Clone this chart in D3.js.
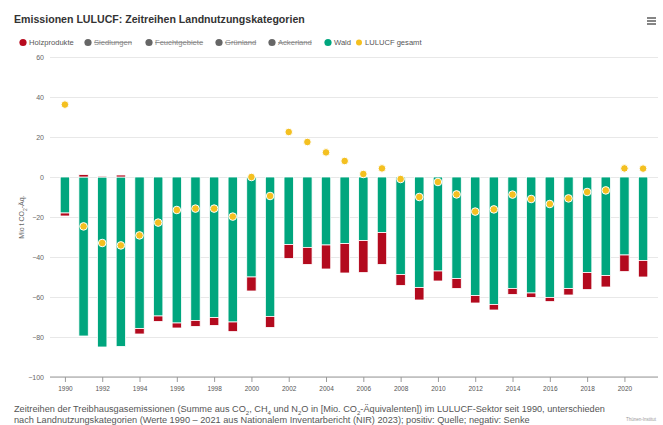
<!DOCTYPE html>
<html>
<head>
<meta charset="utf-8">
<script src="https://cdn.jsdelivr.net/npm/d3@7"></script>
<style>
  body { margin: 0; background: #fff; }
  svg { display: block; font-family: "Liberation Sans", Arial, sans-serif; }
</style>
</head>
<body>
<script>
// Jahre (Kategorien)
var years = [1990, 1991, 1992, 1993, 1994, 1995, 1996, 1997, 1998, 1999,
  2000, 2001, 2002, 2003, 2004, 2005, 2006, 2007, 2008, 2009,
  2010, 2011, 2012, 2013, 2014, 2015, 2016, 2017, 2018, 2019, 2020, 2021];

// Wald (Mio t CO2-Äq.)
var wald = [-18, -79.5, -85, -84.7, -75.8, -69.5, -73, -71.7, -70.3, -72.5,
  -50, -69.7, -33.8, -35.2, -34, -33.3, -31.8, -27.8, -48.8, -55.3,
  -47, -50.8, -59.3, -63.7, -55.7, -58, -60.2, -55.8, -47.8, -49.3, -39, -41.7];

// Holzprodukte
var holz = [-1.5, 1.2, 0.5, 1.0, -2.7, -2.7, -2.5, -3.0, -3.9, -4.8,
  -7, -5.5, -6.9, -8.5, -12, -14.7, -16, -15.9, -5.4, -6.2,
  -5, -4.9, -3.7, -2.8, -3, -2.2, -2.1, -3.2, -8.5, -5.7, -8.3, -8.3];

// LULUCF gesamt (inkl. ausgeblendeter Kategorien)
var gesamt = [36.2, -24.7, -33, -34.2, -29.2, -22.8, -16.5, -15.8, -15.8, -19.8,
  0, -9.5, 22.5, 17.5, 12.3, 8, 1.5, 4.3, -1, -10,
  -2.5, -8.7, -17.3, -16.2, -8.8, -11, -13.5, -10.7, -7.5, -6.7, 4.3, 4.2];

var yTicks = [-100, -80, -60, -40, -20, 0, 20, 40, 60];
var xTicks = [1990, 1992, 1994, 1996, 1998, 2000, 2002, 2004, 2006, 2008, 2010,
  2012, 2014, 2016, 2018, 2020];

var legendItems = [
  { name: 'Holzprodukte', color: '#b80a1e', hidden: false, x: 23 },
  { name: 'Siedlungen', color: '#666', hidden: true, x: 88 },
  { name: 'Feuchtgebiete', color: '#666', hidden: true, x: 149 },
  { name: 'Grünland', color: '#666', hidden: true, x: 219 },
  { name: 'Ackerland', color: '#666', hidden: true, x: 272 },
  { name: 'Wald', color: '#00a67e', hidden: false, x: 328 },
  { name: 'LULUCF gesamt', color: '#f4c020', hidden: false, x: 359, small: true }
];

var W = 663, H = 425;
var plot = { left: 50, right: 658, top: 57, bottom: 377 };

var svg = d3.select('body').append('svg')
  .attr('width', W)
  .attr('height', H);

// Titel
svg.append('text')
  .attr('x', 14).attr('y', 23)
  .style('font-size', '10.6px')
  .style('font-weight', 'bold')
  .style('fill', '#333')
  .text('Emissionen LULUCF: Zeitreihen Landnutzungskategorien');

// Menü-Symbol
[18, 21, 24].forEach(function(yy) {
  svg.append('line')
    .attr('x1', 647).attr('x2', 656)
    .attr('y1', yy).attr('y2', yy)
    .style('stroke', '#666').style('stroke-width', 1.6);
});

// Legende
var leg = svg.append('g').attr('class', 'legend');
legendItems.forEach(function(d) {
  leg.append('circle')
    .attr('cx', d.x).attr('cy', 42.5)
    .attr('r', d.small ? 3 : 3.6)
    .style('fill', d.color);
  leg.append('text')
    .attr('x', d.x + 6).attr('y', 45)
    .style('font-size', '7.6px')
    .style('fill', d.hidden ? '#888' : '#555')
    .style('text-decoration', d.hidden ? 'line-through' : null)
    .text(d.name);
});

var x = d3.scaleLinear()
  .domain([1989.2, 2021.8])
  .range([plot.left, plot.right]);

var y = d3.scaleLinear()
  .domain([-100, 60])
  .range([plot.bottom, plot.top]);

// Gitternetz + y-Achse
var yAxis = d3.axisLeft(y)
  .tickValues(yTicks)
  .tickSize(-(plot.right - plot.left))
  .tickPadding(6);

var gy = svg.append('g')
  .attr('transform', 'translate(' + plot.left + ',0)')
  .call(yAxis);
gy.select('.domain').remove();
gy.selectAll('.tick line').style('stroke', '#e8e8e8');
gy.selectAll('.tick text')
  .style('font-size', '7px')
  .style('fill', '#666')
  .style('font-family', '"Liberation Sans", Arial, sans-serif');

svg.append('text')
  .attr('transform', 'translate(24,' + ((plot.top + plot.bottom) / 2) + ') rotate(-90)')
  .attr('text-anchor', 'middle')
  .style('font-size', '7px')
  .style('fill', '#666')
  .html('Mio t CO<tspan baseline-shift="sub" font-size="5px">2</tspan>-Äq.');

// x-Achse
var xAxis = d3.axisBottom(x)
  .tickValues(xTicks)
  .tickFormat(d3.format('d'))
  .tickSize(5)
  .tickPadding(4);

var gx = svg.append('g')
  .attr('transform', 'translate(0,' + plot.bottom + ')')
  .call(xAxis);
gx.select('.domain')
  .attr('d', 'M' + plot.left + ',0H' + plot.right)
  .style('stroke', '#9a9a9a');
gx.selectAll('.tick line').style('stroke', '#9a9a9a');
gx.selectAll('.tick text')
  .style('font-size', '6.5px')
  .style('fill', '#555')
  .style('font-family', '"Liberation Sans", Arial, sans-serif');

// Gestapelte Säulen
var rows = years.map(function(yr, i) {
  return { year: yr, Wald: wald[i], Holzprodukte: holz[i] };
});

var stack = d3.stack()
  .keys(['Wald', 'Holzprodukte'])
  .offset(d3.stackOffsetDiverging);

var series = stack(rows);
var colors = { Wald: '#00a67e', Holzprodukte: '#b30a1e' };
var barW = 9.4;

svg.selectAll('.series')
  .data(series)
  .enter().append('g')
  .attr('class', 'series')
  .style('fill', function(s) { return colors[s.key]; })
  .selectAll('rect')
  .data(function(s) { return s; })
  .enter().append('rect')
  .attr('x', function(d) { return x(d.data.year) - barW / 2; })
  .attr('y', function(d) { return y(Math.max(d[0], d[1])); })
  .attr('width', barW)
  .attr('height', function(d) { return Math.abs(y(d[0]) - y(d[1])); })
  .style('stroke', '#fff')
  .style('stroke-width', 0.8);

// LULUCF gesamt
svg.selectAll('.dot')
  .data(gesamt)
  .enter().append('circle')
  .attr('class', 'dot')
  .attr('cx', function(d, i) { return x(years[i]); })
  .attr('cy', function(d) { return y(d); })
  .attr('r', 3.8)
  .style('fill', '#f4c020')
  .style('stroke', '#fff')
  .style('stroke-width', 1);

// Bildunterschrift
var cap = svg.append('text')
  .style('font-family', '"Liberation Sans Narrow", "Liberation Sans", Arial, sans-serif')
  .style('font-size', '9.2px')
  .style('fill', '#555');

cap.append('tspan').attr('x', 14).attr('y', 412)
  .html('Zeitreihen der Treibhausgasemissionen (Summe aus CO<tspan baseline-shift="sub" font-size="6px">2</tspan>, ' +
    'CH<tspan baseline-shift="sub" font-size="6px">4</tspan> und N<tspan baseline-shift="sub" font-size="6px">2</tspan>O ' +
    'in [Mio. CO<tspan baseline-shift="sub" font-size="6px">2</tspan>-Äquivalenten]) im LULUCF-Sektor seit 1990, unterschieden');
cap.append('tspan').attr('x', 14).attr('y', 423)
  .text('nach Landnutzungskategorien (Werte 1990 – 2021 aus Nationalem Inventarbericht (NIR) 2023); positiv: Quelle; negativ: Senke');

// Quelle
svg.append('text')
  .attr('x', 656).attr('y', 421)
  .attr('text-anchor', 'end')
  .style('font-size', '4.5px')
  .style('fill', '#999')
  .text('Thünen-Institut');
</script>
</body>
</html>
